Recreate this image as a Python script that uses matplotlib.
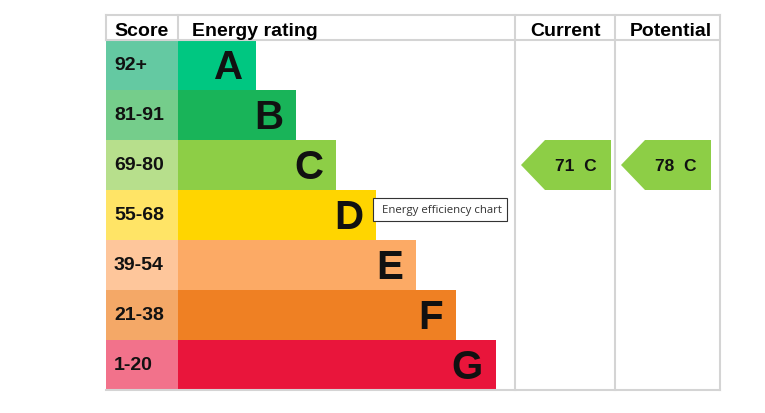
import matplotlib
matplotlib.use('Agg')
import matplotlib.pyplot as plt
from matplotlib.patches import Rectangle, Polygon

plt.rcParams['font.family'] = ['Liberation Sans', 'DejaVu Sans']

# EPC bands
bands = ['A', 'B', 'C', 'D', 'E', 'F', 'G']
scores = ['92+', '81-91', '69-80', '55-68', '39-54', '21-38', '1-20']
bar_colors = ['#00c781', '#19b459', '#8dce46', '#ffd500', '#fcaa65', '#ef8023', '#e9153b']
score_colors = ['#64c9a2', '#75cd8b', '#b7df8c', '#ffe466', '#fec69b', '#f4a867', '#f2728b']

current_score = 71
current_band = 'C'
potential_score = 78
potential_band = 'C'

# layout in pixels
W, H = 765, 414
left, score_w, bar_x = 106, 72, 178
top, head_h, row_h = 16, 25, 50
col_cur, col_pot, right = 515, 615, 720
grid = '#d4d4d4'

fig = plt.figure(figsize=(W / 100, H / 100), dpi=100)
ax = fig.add_axes([0, 0, 1, 1])
ax.set_xlim(0, W)
ax.set_ylim(H, 0)
ax.axis('off')

body_top = top + head_h
bottom = body_top + row_h * len(bands)

# rows
for i, (b, s) in enumerate(zip(bands, scores)):
    y0 = body_top + i * row_h
    ax.add_patch(Rectangle((left, y0), score_w, row_h, color=score_colors[i], lw=0))
    bw = 78 + 40 * i
    ax.add_patch(Rectangle((bar_x, y0), bw, row_h, color=bar_colors[i], lw=0))
    ax.text(left + 8, y0 + row_h / 2, s, fontsize=14, fontweight='bold',
            ha='left', va='center', color='#111111')
    ax.text(bar_x + bw - 13, y0 + row_h / 2 + 2, b, fontsize=29, fontweight='bold',
            ha='right', va='center', color='#111111')

# grid lines
lw = 1.5
ax.plot([left, right], [top, top], color=grid, lw=lw)
ax.plot([left, right], [body_top, body_top], color=grid, lw=lw)
ax.plot([left, right], [bottom, bottom], color=grid, lw=lw)
ax.plot([left, left], [top, body_top], color=grid, lw=lw)
ax.plot([bar_x, bar_x], [top, body_top], color=grid, lw=lw)
for x in (col_cur, col_pot, right):
    ax.plot([x, x], [top, bottom], color=grid, lw=lw)

# headers
hy = top + head_h / 2 + 2.5
ax.text(left + 8, hy, 'Score', fontsize=14, fontweight='bold', ha='left', va='center')
ax.text(bar_x + 14, hy, 'Energy rating', fontsize=14, fontweight='bold', ha='left', va='center')
ax.text((col_cur + col_pot) / 2 + 1, hy, 'Current', fontsize=14, fontweight='bold',
        ha='center', va='center')
ax.text((col_pot + right) / 2 + 3, hy, 'Potential', fontsize=14, fontweight='bold',
        ha='center', va='center')


def arrow(x0, score, band):
    i = bands.index(band)
    y0 = body_top + i * row_h
    pts = [(x0 + 6, y0 + row_h / 2), (x0 + 30, y0), (x0 + 96, y0),
           (x0 + 96, y0 + row_h), (x0 + 30, y0 + row_h)]
    ax.add_patch(Polygon(pts, closed=True, color=bar_colors[i], lw=0))
    ax.text(x0 + 61, y0 + row_h / 2 + 1, f'{score}  {band}', fontsize=12.5,
            fontweight='bold', ha='center', va='center', color='#111111')


arrow(col_cur, current_score, current_band)
arrow(col_pot, potential_score, potential_band)

# tooltip
ax.add_patch(Rectangle((373, 199), 134, 23, facecolor='white', edgecolor='#333333', lw=0.8))
ax.text(382, 211, 'Energy efficiency chart', fontsize=8.2, family=['Open Sans', 'DejaVu Sans'],
        ha='left', va='center', color='#333333')

fig.savefig('out.png', dpi=100)
